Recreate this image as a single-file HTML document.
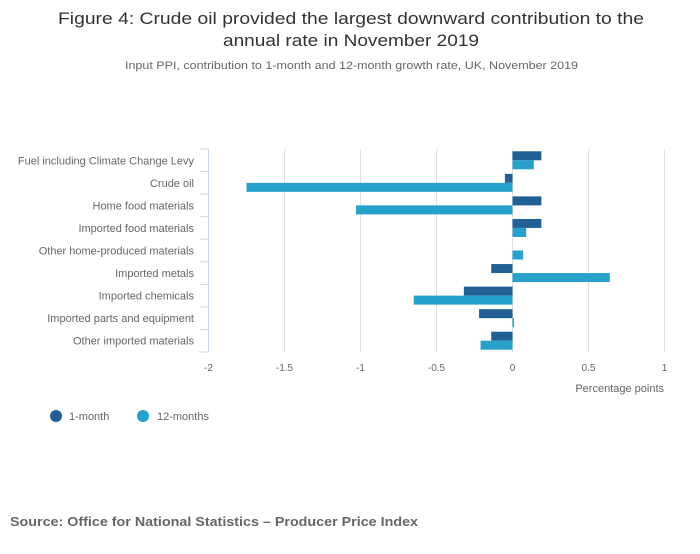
<!DOCTYPE html>
<html><head><meta charset="utf-8"><style>
body{margin:0;background:#fff;width:700px;height:549px;overflow:hidden;font-family:"Liberation Sans",sans-serif}
</style></head><body>
<svg width="700" height="549" xmlns="http://www.w3.org/2000/svg" font-family="Liberation Sans, sans-serif">
<text x="58" y="24" font-size="17" fill="#333" textLength="586" lengthAdjust="spacingAndGlyphs">Figure 4: Crude oil provided the largest downward contribution to the</text>
<text x="223" y="46" font-size="17" fill="#333" textLength="256" lengthAdjust="spacingAndGlyphs">annual rate in November 2019</text>
<text x="125" y="69" font-size="11" fill="#666" textLength="453" lengthAdjust="spacingAndGlyphs">Input PPI, contribution to 1-month and 12-month growth rate, UK, November 2019</text>
<g id="grid"></g><g id="bars"></g><g id="axes"></g>
<text x="664" y="392" text-anchor="end" font-size="11" fill="#666">Percentage points</text>
<circle cx="56" cy="416" r="6" fill="#206095"/>
<text x="69" y="420" font-size="11" fill="#666">1-month</text>
<circle cx="143" cy="416" r="6" fill="#27a0cc"/>
<text x="157" y="420" font-size="11" fill="#666">12-months</text>
<text x="10" y="526" font-size="13" font-weight="bold" fill="#666" textLength="408" lengthAdjust="spacingAndGlyphs">Source: Office for National Statistics – Producer Price Index</text>
</svg>
<script>
const categories=["Fuel including Climate Change Levy","Crude oil","Home food materials","Imported food materials","Other home-produced materials","Imported metals","Imported chemicals","Imported parts and equipment","Other imported materials"];
const oneMonth=[0.19,-0.05,0.19,0.19,0,-0.14,-0.32,-0.22,-0.14];
const twelveMonths=[0.14,-1.75,-1.03,0.09,0.07,0.64,-0.65,0.01,-0.21];
const xTicks=[-2,-1.5,-1,-0.5,0,0.5,1];
const NS="http://www.w3.org/2000/svg";
const x0=208.5,x1=664.5,vmin=-2,vmax=1,yTop=149,yBottom=352;
const xs=v=>x0+(v-vmin)/(vmax-vmin)*(x1-x0);
const band=(yBottom-yTop)/categories.length;
function mk(t,a,p){const e=document.createElementNS(NS,t);for(const k in a)e.setAttribute(k,a[k]);p.appendChild(e);return e;}
const gridG=document.getElementById('grid'),barsG=document.getElementById('bars'),axesG=document.getElementById('axes');
xTicks.forEach(t=>{
 if(t!==vmin){const l=mk('line',{x1:xs(t),x2:xs(t),y1:yTop,y2:yBottom,stroke:'#e0e0e0'},gridG);
 
 }
 const tx=mk('text',{x:xs(t),y:371,'text-anchor':'middle','font-size':10,fill:'#666'},axesG);tx.textContent=String(t);
 
 
});
const ax=mk('line',{x1:x0,x2:x0,y1:yTop,y2:yBottom,stroke:'#ccd6eb'},axesG);


for(let i=0;i<=categories.length;i++){const y=yTop+i*band;const t=mk('line',{x1:x0-9,x2:x0,y1:y,y2:y,stroke:'#ccd6eb'},axesG);
 
 }
categories.forEach((c,i)=>{
 const yc=yTop+i*band+band/2;
 const tx=mk('text',{x:194,y:yc+4,'text-anchor':'end','font-size':11,fill:'#666'},axesG);tx.textContent=c;
 
 
 [[oneMonth,'#206095',-9],[twelveMonths,'#27a0cc',0]].forEach(([arr,col,off])=>{
  const v=arr[i];if(v===0)return;
  const a=xs(Math.min(0,v)),b=xs(Math.max(0,v));
  const r=mk('rect',{x:a,y:yc+off,width:Math.max(b-a,1),height:9,fill:col},barsG);
  
  
 });
});
</script>
</body></html>
